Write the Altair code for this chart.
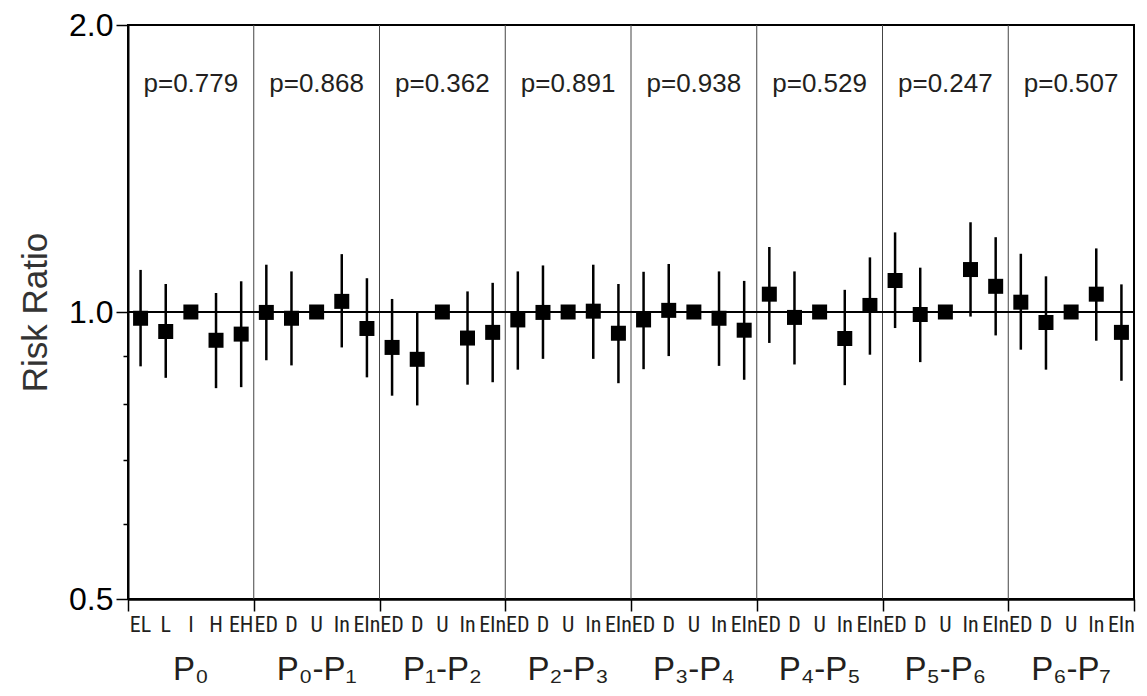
import altair as alt
import pandas as pd

# ---- data ----
groups = ["P₀", "P₀-P₁", "P₁-P₂", "P₂-P₃", "P₃-P₄", "P₄-P₅", "P₅-P₆", "P₆-P₇"]
p_values = ["p=0.779", "p=0.868", "p=0.362", "p=0.891", "p=0.938", "p=0.529", "p=0.247", "p=0.507"]
cats_p0 = ["EL", "L", "I", "H", "EH"]
cats_change = ["ED", "D", "U", "In", "EIn"]

rr = [0.985, 0.954, 1.0, 0.934, 0.948,
      0.999, 0.985, 1.0, 1.026, 0.961,
      0.918, 0.892, 1.0, 0.939, 0.952,
      0.981, 0.999, 1.0, 1.002, 0.950,
      0.981, 1.004, 1.0, 0.985, 0.957,
      1.044, 0.987, 1.0, 0.938, 1.016,
      1.079, 0.994, 1.0, 1.108, 1.064,
      1.024, 0.975, 1.0, 1.044, 0.952]
lo = [0.877, 0.853, None, 0.832, 0.834,
      0.890, 0.879, None, 0.918, 0.854,
      0.817, 0.798, None, 0.839, 0.844,
      0.870, 0.893, None, 0.893, 0.842,
      0.871, 0.899, None, 0.878, 0.849,
      0.928, 0.881, None, 0.838, 0.902,
      0.962, 0.886, None, 0.989, 0.945,
      0.913, 0.870, None, 0.933, 0.847]
hi = [1.107, 1.070, None, 1.047, 1.077,
      1.121, 1.103, None, 1.150, 1.085,
      1.032, 1.002, None, 1.051, 1.073,
      1.103, 1.119, None, 1.121, 1.070,
      1.102, 1.123, None, 1.103, 1.078,
      1.170, 1.103, None, 1.055, 1.141,
      1.212, 1.113, None, 1.242, 1.198,
      1.151, 1.090, None, 1.166, 1.069]

n_per = 5
labels = cats_p0 + cats_change * (len(groups) - 1)
pts = pd.DataFrame({
    "pos": [i + 0.5 for i in range(len(rr))],
    "rr": rr, "lo": lo, "hi": hi, "label": labels,
})
ci = pts.dropna(subset=["lo"])
grp = pd.DataFrame({
    "center": [g * n_per + n_per / 2 for g in range(len(groups))],
    "group": groups, "p": p_values,
})
seps = pd.DataFrame({"b": [g * n_per for g in range(1, len(groups))]})

W, H = 1006, 574
xs = alt.Scale(domain=[0, len(rr)], nice=False, zero=False)
ys = alt.Scale(type="log", domain=[0.5, 2.0], nice=False)
FONT = "Liberation Sans"
TXT = "#231f20"

x_axis = alt.Axis(values=[g * n_per for g in range(len(groups) + 1)], labels=False,
                  title=None, tickSize=12, tickWidth=1.5, tickColor="black",
                  domainColor="black", domainWidth=2.5, grid=False)
y_axis = alt.Axis(values=[0.5, 0.6, 0.7, 0.8, 0.9, 1.0, 2.0],
                  labelExpr="(datum.value==0.5||datum.value==1||datum.value==2) ? format(datum.value,'.1f') : ''",
                  tickSize={"condition": {"test": "datum.value==0.5||datum.value==1||datum.value==2", "value": 12}, "value": 5},
                  tickWidth=1.5, tickColor="black", domainColor="black", domainWidth=2,
                  labelFontSize=32, labelFont=FONT, labelColor="black", labelPadding=3,
                  title="Risk Ratio", titleFont=FONT, titleFontSize=35, titleFontWeight="normal",
                  titleColor="#333333", titleX=-93, titleY=H / 2, titleBaseline="middle",
                  grid=False)

sep_layer = alt.Chart(seps).mark_rule(color="#444444", strokeWidth=1).encode(
    x=alt.X("b:Q", scale=xs, axis=x_axis))
ref_layer = alt.Chart(grp).mark_rule(color="black", strokeWidth=1.3).encode(
    y=alt.Y(datum=1.0, scale=ys, axis=y_axis))
err_layer = alt.Chart(ci).mark_rule(color="black", strokeWidth=2.5).encode(
    x=alt.X("pos:Q", scale=xs, axis=x_axis),
    y=alt.Y("lo:Q", scale=ys, axis=y_axis), y2="hi:Q")
sq_layer = alt.Chart(pts).mark_square(size=225, color="black", opacity=1).encode(
    x=alt.X("pos:Q", scale=xs, axis=x_axis),
    y=alt.Y("rr:Q", scale=ys, axis=y_axis))
p_layer = alt.Chart(grp).mark_text(fontSize=26, font=FONT, color=TXT, baseline="middle").encode(
    x=alt.X("center:Q", scale=xs, axis=x_axis),
    y=alt.Y(datum=1.735, scale=ys, axis=y_axis),
    text="p:N")
cat_layer = alt.Chart(pts).mark_text(fontSize=22, font="Liberation Sans Narrow, Roboto Condensed, Liberation Sans",
                                     color=TXT, baseline="alphabetic").encode(
    x=alt.X("pos:Q", scale=xs, axis=x_axis),
    y=alt.value(H + 33),
    text="label:N")
grp_layer = alt.Chart(grp).mark_text(fontSize=33, font=FONT, color=TXT, baseline="alphabetic").encode(
    x=alt.X("center:Q", scale=xs, axis=x_axis),
    y=alt.value(H + 81),
    text="group:N")

chart = alt.layer(sq_layer, sep_layer, ref_layer, err_layer, p_layer, cat_layer, grp_layer).properties(
    width=W, height=H,
    autosize=alt.AutoSizeParams(type="none"),
    padding={"left": 120, "top": 17, "right": 3, "bottom": 88},
).configure_view(stroke="black", strokeWidth=2)

chart.save("out.html", embed_options={"renderer": "svg", "actions": False})
